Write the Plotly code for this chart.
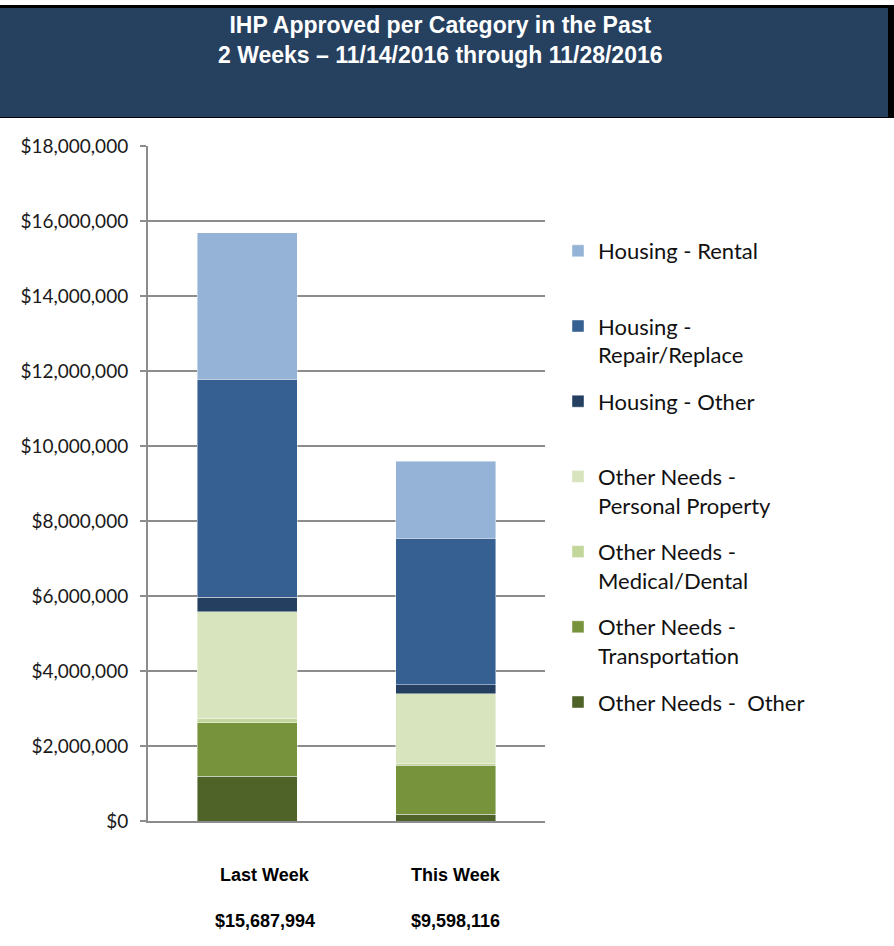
import plotly.graph_objects as go

categories = ["Last Week", "This Week"]
totals = [15687994, 9598116]

series_names = [
    "Other Needs -  Other",
    "Other Needs -<br>Transportation",
    "Other Needs -<br>Medical/Dental",
    "Other Needs -<br>Personal Property",
    "Housing - Other",
    "Housing -<br>Repair/Replace",
    "Housing - Rental",
]
other_needs_other = [1200000, 180000]
other_needs_transportation = [1420000, 1310000]
other_needs_medical = [110000, 40000]
other_needs_personal = [2850000, 1865000]
housing_other = [385000, 240000]
housing_repair = [5815000, 3905000]
housing_rental = [3907994, 2058116]

series_values = [
    other_needs_other,
    other_needs_transportation,
    other_needs_medical,
    other_needs_personal,
    housing_other,
    housing_repair,
    housing_rental,
]
colors = ["#4f6228", "#77933c", "#c3d69b", "#d7e4bd", "#243f60", "#376092", "#95b3d7"]

# pixel -> paper helpers (plot area: x 148..545, y 146..821)
L, R, T, B = 148, 545, 146, 821
def px(x):
    return (x - L) / (R - L)
def py(y):
    return (B - y) / (B - T)

fig = go.Figure()
n = len(series_names)
for i, (name, vals, col) in enumerate(zip(series_names, series_values, colors)):
    label = name if "<br>" in name else name + "<br>&nbsp;"
    fig.add_trace(go.Bar(
        x=categories, y=vals, name=label,
        marker=dict(color=col, line=dict(color="rgba(255,255,255,0.55)", width=0.8)),
        legendgroup=f"g{i}",
        legendrank=n - i,
        hoverinfo="skip",
    ))

fig.update_layout(
    width=894, height=946,
    margin=dict(l=L, r=894 - R, t=T, b=946 - B, pad=0),
    barmode="stack",
    bargap=0.496,
    paper_bgcolor="white",
    plot_bgcolor="white",
    showlegend=True,
    legend=dict(
        x=px(558), xanchor="left",
        y=py(230), yanchor="top",
        traceorder="grouped",
        tracegroupgap=15,
        valign="top",
        font=dict(family="Lato", size=22, color="#111111"),
        bgcolor="rgba(0,0,0,0)",
    ),
    font=dict(family="Lato", color="#222222"),
)

fig.update_yaxes(
    range=[0, 18000000], dtick=2000000, tickformat="$,.0f",
    showgrid=True, gridcolor="#8c8c8c", gridwidth=1.5,
    showline=True, linecolor="#8c8c8c", linewidth=2,
    ticks="outside", ticklen=6, tickcolor="#8c8c8c", tickwidth=1.5,
    ticklabelstandoff=8,
    tickfont=dict(family="Lato", size=19, color="#1a1a1a"),
    zeroline=False, fixedrange=True,
)
fig.update_xaxes(
    showticklabels=False, showline=True, linecolor="#8c8c8c", linewidth=2,
    ticks="", range=[-0.5, 1.5], fixedrange=True,
)

# title banner
fig.add_shape(type="rect", xref="paper", yref="paper",
              x0=px(0), x1=px(894), y0=py(118), y1=py(5),
              fillcolor="#000000", line=dict(width=0), layer="above")
fig.add_shape(type="rect", xref="paper", yref="paper",
              x0=px(0), x1=px(888), y0=py(117), y1=py(8),
              fillcolor="#264060", line=dict(width=0), layer="above")
fig.add_annotation(
    xref="paper", yref="paper", x=px(440), y=py(40),
    xanchor="center", yanchor="middle", showarrow=False,
    text="<b>IHP Approved per Category in the Past<br>2 Weeks \u2013 11/14/2016 through 11/28/2016</b>",
    font=dict(family="Liberation Sans, Arial", size=23, color="white"),
)

# category labels and totals (slightly offset right of bar centres, as in the original)
label_xshift = [18, 10]
for cat, tot, sh in zip(categories, totals, label_xshift):
    fig.add_annotation(
        x=cat, xref="x", yref="paper", y=py(875), yanchor="middle", xshift=sh,
        showarrow=False, text=f"<b>{cat}</b>",
        font=dict(family="Liberation Sans, Arial", size=18, color="black"),
    )
    fig.add_annotation(
        x=cat, xref="x", yref="paper", y=py(921), yanchor="middle", xshift=sh,
        showarrow=False, text=f"<b>${tot:,.0f}</b>",
        font=dict(family="Liberation Sans, Arial", size=18, color="black"),
    )

fig.write_html("out.html", config={"displayModeBar": False},
               post_script="document.body.style.margin='0';")
